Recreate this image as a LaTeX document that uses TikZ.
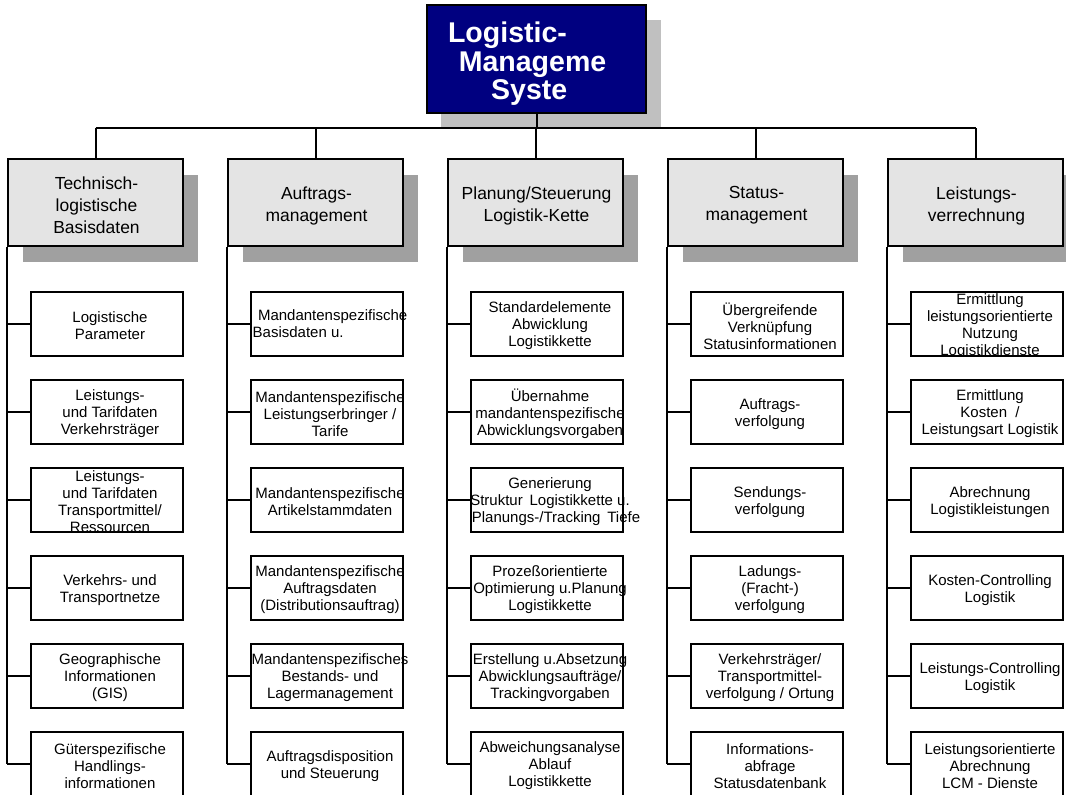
\documentclass[tikz,border=0pt]{standalone}
\usepackage{fontspec}
\setmainfont{Liberation Sans}
\definecolor{navy}{HTML}{000080}
\definecolor{headfill}{HTML}{E4E4E4}
\definecolor{headshadow}{HTML}{A0A0A0}
\definecolor{titleshadow}{HTML}{C0C0C0}
\tikzset{
  conn/.style={line width=1.5pt},
  titlebox/.style={draw=black, fill=navy, line width=1.5pt, inner sep=0pt,
    minimum width=164.25pt, minimum height=81pt},
  titletext/.style={text=white, font=\bfseries\fontsize{21.4pt}{21.4pt}\selectfont,
    align=center, inner sep=0pt},
  headbox/.style={draw=black, fill=headfill, line width=1.5pt, inner sep=0pt,
    minimum width=131.25pt, minimum height=65.25pt},
  headtext/.style={font=\fontsize{13.1pt}{16.5pt}\selectfont, align=center, inner sep=0pt},
  childbox/.style={draw=black, fill=white, line width=1.5pt, inner sep=0pt,
    minimum width=114pt, minimum height=48pt},
  childtext/.style={font=\fontsize{11.25pt}{12.75pt}\selectfont, align=center, inner sep=0pt},
}
% head box of a column: index, text
\newcommand\headbox[2]{%
  \pgfmathsetmacro\hx{95.5+220*#1}%
  \fill[headshadow] (\hx-87.5+15,202.5-43.5+16) rectangle (\hx+87.5+15,202.5+43.5+16);
  \node[headbox] (h#1) at (\hx,202.5) {};
  \node[headtext] (ht#1) at (\hx+1,205.5) {#2};
}
% child box: column, row, text
\newcommand\childbox[3]{%
  \pgfmathsetmacro\cx{107+220*#1}%
  \pgfmathsetmacro\cy{324+88*#2}%
  \node[childbox] (c#1#2) at (\cx,\cy) {};
  \begin{scope}
    \clip (\cx-130,\cy-32) rectangle (\cx+130,\cy+32);
    \node[childtext] (t#1#2) at (\cx+3,\cy+2) {#3};
  \end{scope}
  \draw[conn] (c#1#2.west) -- (h#1.south west |- c#1#2.west);
}
\begin{document}
\begin{tikzpicture}[x=0.75pt,y=-0.75pt]
\useasboundingbox (0,0) rectangle (1066,795);

% title
\fill[titleshadow] (441,20) rectangle (661,129);
\coordinate (bus) at (536.5,128);
\node[titlebox] (title) at (536.5,59) {};
\node[titletext] (tt) at (532.5,64) {\mbox{Logistic-\kern37.5pt}\\Manageme\\\mbox{Syste\kern5pt}};
\draw[conn] (title.south) -- (bus);

% column heads
\headbox{0}{Technisch-\\logistische\\Basisdaten}
\headbox{1}{Auftrags-\\management}
\headbox{2}{Planung/Steuerung\\Logistik-Kette}
\headbox{3}{Status-\\management}
\headbox{4}{Leistungs-\\verrechnung}

\draw[conn] (h0.north |- bus) -- (h4.north |- bus);
\foreach \i in {0,...,4} {
  \draw[conn] (h\i.north) -- (h\i.north |- bus);
}

% column 1
\childbox{0}{0}{Logistische\\Parameter}
\childbox{0}{1}{Leistungs-\\und Tarifdaten\\Verkehrsträger}
\childbox{0}{2}{Leistungs-\\und Tarifdaten\\Transportmittel/\\Ressourcen}
\childbox{0}{3}{Verkehrs- und\\Transportnetze}
\childbox{0}{4}{Geographische\\Informationen\\(GIS)}
\childbox{0}{5}{Güterspezifische\\Handlings-\\informationen}

% column 2
\childbox{1}{0}{\begin{tabular}{@{}l@{}}\hspace{4pt}Mandantenspezifische\\Basisdaten u.\end{tabular}}
\childbox{1}{1}{Mandantenspezifische\\Leistungserbringer /\\Tarife}
\childbox{1}{2}{Mandantenspezifische\\Artikelstammdaten}
\childbox{1}{3}{Mandantenspezifische\\Auftragsdaten\\(Distributionsauftrag)}
\childbox{1}{4}{Mandantenspezifisches\\Bestands- und\\Lagermanagement}
\childbox{1}{5}{Auftragsdisposition\\und Steuerung}

% column 3
\childbox{2}{0}{Standardelemente\\Abwicklung\\Logistikkette}
\childbox{2}{1}{Übernahme\\mandantenspezifische\\Abwicklungsvorgaben}
\childbox{2}{2}{Generierung\\Struktur\hspace{2pt} Logistikkette u.\\\mbox{\kern9pt Planungs-/Tracking\hspace{2pt} Tiefe}}
\childbox{2}{3}{Prozeßorientierte\\Optimierung u.Planung\\Logistikkette}
\childbox{2}{4}{Erstellung u.Absetzung\\Abwicklungsaufträge/\\Trackingvorgaben}
\childbox{2}{5}{Abweichungsanalyse\\Ablauf\\Logistikkette}

% column 4
\childbox{3}{0}{Übergreifende\\Verknüpfung\\Statusinformationen}
\childbox{3}{1}{Auftrags-\\verfolgung}
\childbox{3}{2}{Sendungs-\\verfolgung}
\childbox{3}{3}{Ladungs-\\(Fracht-)\\verfolgung}
\childbox{3}{4}{Verkehrsträger/\\Transportmittel-\\verfolgung / Ortung}
\childbox{3}{5}{Informations-\\abfrage\\Statusdatenbank}

% column 5
\childbox{4}{0}{Ermittlung\\leistungsorientierte\\Nutzung\\Logistikdienste}
\childbox{4}{1}{Ermittlung\\Kosten\ \ /\\Leistungsart Logistik}
\childbox{4}{2}{Abrechnung\\Logistikleistungen}
\childbox{4}{3}{Kosten-Controlling\\Logistik}
\childbox{4}{4}{Leistungs-Controlling\\Logistik}
\childbox{4}{5}{Leistungsorientierte\\Abrechnung\\LCM - Dienste}

% column spines
\foreach \i in {0,...,4} {
  \draw[conn] (h\i.south west) -- (h\i.south west |- c\i5.west);
}
\end{tikzpicture}
\end{document}
